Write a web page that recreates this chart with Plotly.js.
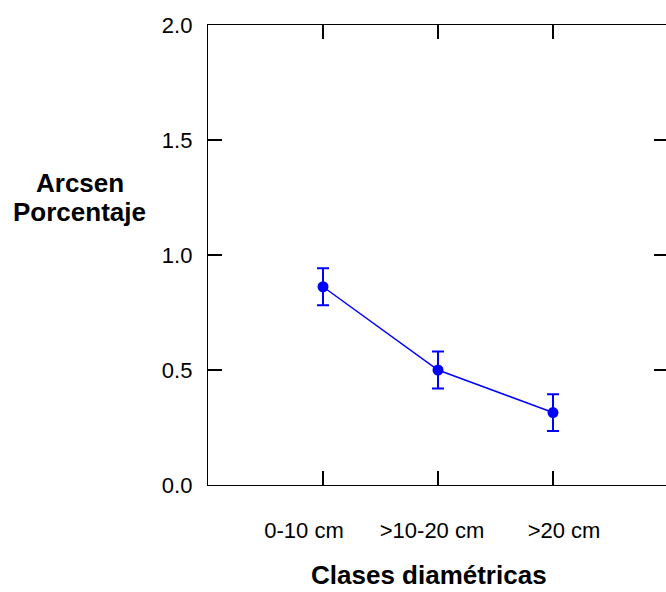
<!DOCTYPE html>
<html>
<head>
<meta charset="utf-8">
<script src="https://cdn.plot.ly/plotly-3.0.1.min.js"></script>
<style>
html, body { margin: 0; padding: 0; overflow: hidden; background: #fff; }
#chart { width: 670px; height: 640px; }
</style>
</head>
<body>
<div id="chart"></div>
<script>
// Data
const categories = ["0-10 cm", ">10-20 cm", ">20 cm"];
const categoryIndex = [0, 1, 2];
const meanValues = [0.862, 0.500, 0.315];
const errorValues = [0.080, 0.080, 0.080];
const yTickValues = [0, 0.5, 1.0, 1.5, 2.0];
const yTitleLines = ["Arcsen", "Porcentaje"];
const xTitle = "Clases diamétricas";

// Label placement (layout only): offsets of the printed category labels
const labelShift = [-0.165, -0.052, 0.096];

const font = 'Arial, "Liberation Sans", sans-serif';
const blue = '#0000ff';

const trace = {
  x: categoryIndex,
  y: meanValues,
  type: 'scatter',
  mode: 'lines+markers',
  line: { color: blue, width: 1.5 },
  marker: { color: blue, size: 11 },
  error_y: { type: 'data', array: errorValues, visible: true, color: blue, thickness: 2, width: 6 },
  xaxis: 'x',
  yaxis: 'y',
  showlegend: false,
  hoverinfo: 'none'
};

// invisible trace to activate label axis
const labelTrace = {
  x: categoryIndex.map((v, i) => v + labelShift[i]),
  y: [null, null, null],
  type: 'scatter', mode: 'markers',
  xaxis: 'x2', yaxis: 'y', showlegend: false, hoverinfo: 'none'
};

const axisLine = { showline: true, linecolor: '#000', linewidth: 1.2, mirror: 'ticks',
  ticks: 'inside', ticklen: 14, tickwidth: 1.2, tickcolor: '#000', showgrid: false, zeroline: false };

const layout = {
  width: 670, height: 640,
  margin: { l: 208, r: 2, t: 25, b: 155 },
  paper_bgcolor: '#fff', plot_bgcolor: '#fff',
  font: { family: font, color: '#000' },
  xaxis: Object.assign({}, axisLine, {
    range: [-1, 3], tickmode: 'array', tickvals: categoryIndex, showticklabels: false
  }),
  xaxis2: {
    overlaying: 'x', side: 'bottom', anchor: 'y', range: [-1, 3],
    tickmode: 'array', tickvals: categoryIndex.map((v, i) => v + labelShift[i]), ticktext: categories,
    ticks: '', showline: false, showgrid: false, zeroline: false,
    tickfont: { family: font, size: 22, color: '#000' }, ticklabelstandoff: 30
  },
  yaxis: Object.assign({}, axisLine, {
    range: [0, 2], tickmode: 'array', tickvals: yTickValues, tickformat: '.1f',
    tickfont: { family: font, size: 22, color: '#000' }, ticklabelstandoff: 10
  }),
  annotations: [
    { text: '<b>' + yTitleLines[0] + '</b>', xref: 'paper', yref: 'paper', x: -0.279, y: 0.6565,
      xanchor: 'center', yanchor: 'middle', showarrow: false, font: { family: font, size: 26, color: '#000' } },
    { text: '<b>' + yTitleLines[1] + '</b>', xref: 'paper', yref: 'paper', x: -0.279, y: 0.5935,
      xanchor: 'center', yanchor: 'middle', showarrow: false, font: { family: font, size: 26, color: '#000' } },
    { text: '<b>' + xTitle + '</b>', xref: 'paper', yref: 'paper', x: 0.480, y: -0.2325,
      xanchor: 'center', yanchor: 'bottom', showarrow: false, font: { family: font, size: 26, color: '#000' } }
  ]
};

Plotly.newPlot('chart', [trace, labelTrace], layout, { staticPlot: true, displayModeBar: false });
</script>
</body>
</html>
